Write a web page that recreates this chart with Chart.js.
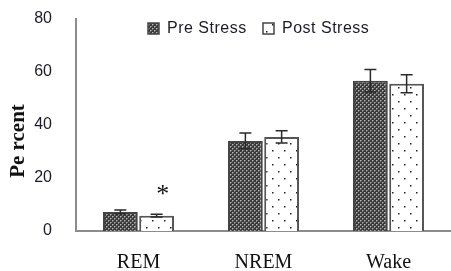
<!DOCTYPE html>
<html>
<head>
<meta charset="utf-8">
<script src="https://cdn.jsdelivr.net/npm/chart.js@4.4.0/dist/chart.umd.min.js"></script>
<style>
html, body { margin: 0; padding: 0; background: #fff; }
</style>
</head>
<body>
<canvas id="grafico" width="451" height="271"></canvas>
<script>
const categorias = ['REM', 'NREM', 'Wake'];
const preStress = [7.2, 34, 56.7];
const postStress = [5.8, 35.5, 55.6];
const erroPre = [0.7, 3, 4.2];
const erroPost = [0.5, 2.3, 3.4];
const marcasPost = ['*', '', ''];
const tituloY = 'Pe rcent';

// padroes de preenchimento
function padraoPre() {
    const c = document.createElement('canvas');
    c.width = 4; c.height = 4;
    const g = c.getContext('2d');
    g.fillStyle = '#3a3a3a';
    g.fillRect(0, 0, 4, 4);
    g.fillStyle = '#b5b5b5';
    g.fillRect(0, 0, 1, 1);
    g.fillRect(2, 2, 1, 1);
    g.fillStyle = '#7a7a7a';
    g.fillRect(1, 0, 1, 1);
    g.fillRect(0, 1, 1, 1);
    g.fillRect(3, 2, 1, 1);
    g.fillRect(2, 3, 1, 1);
    return g.createPattern(c, 'repeat');
}

function padraoPost() {
    const c = document.createElement('canvas');
    c.width = 12; c.height = 14;
    const g = c.getContext('2d');
    g.fillStyle = '#ffffff';
    g.fillRect(0, 0, 12, 14);
    g.fillStyle = '#222';
    g.fillRect(2, 3, 1.5, 1.5);
    g.fillRect(8, 10, 1.5, 1.5);
    return g.createPattern(c, 'repeat');
}

const pluginErros = {
    id: 'erros',
    afterDatasetsDraw(chart) {
        const ctx = chart.ctx;
        const y = chart.scales.y;
        chart.data.datasets.forEach((ds, i) => {
            const meta = chart.getDatasetMeta(i);
            meta.data.forEach((bar, j) => {
                const v = ds.data[j], e = ds.erros[j];
                const topo = y.getPixelForValue(v + e);
                const base = y.getPixelForValue(v - e);
                ctx.save();
                ctx.strokeStyle = '#2a2a2a';
                ctx.lineWidth = 1.5;
                ctx.beginPath();
                ctx.moveTo(bar.x, topo); ctx.lineTo(bar.x, base);
                ctx.moveTo(bar.x - 6, topo); ctx.lineTo(bar.x + 6, topo);
                ctx.moveTo(bar.x - 6, base); ctx.lineTo(bar.x + 6, base);
                ctx.stroke();
                if (ds.marcas && ds.marcas[j]) {
                    ctx.fillStyle = '#111';
                    ctx.font = '26px "Liberation Serif"';
                    ctx.textAlign = 'center';
                    ctx.textBaseline = 'middle';
                    ctx.fillText(ds.marcas[j], bar.x + 6, topo - 19);
                }
                ctx.restore();
            });
        });
    },
    afterDraw(chart) {
        const ctx = chart.ctx;
        const itens = [
            { x: 148, texto: 'Pre Stress', cor: chart.data.datasets[0].backgroundColor },
            { x: 263, texto: 'Post Stress', cor: chart.data.datasets[1].backgroundColor }
        ];
        ctx.save();
        itens.forEach(it => {
            ctx.fillStyle = it.cor;
            ctx.fillRect(it.x, 23, 11, 11);
            ctx.strokeStyle = '#444';
            ctx.lineWidth = 1.5;
            ctx.strokeRect(it.x, 23, 11, 11);
            ctx.fillStyle = '#1c1c28';
            ctx.font = '16px "Liberation Sans"';
            ctx.letterSpacing = '0.5px';
            ctx.textBaseline = 'middle';
            ctx.fillText(it.texto, it.x + 19, 29);
        });
        ctx.restore();

        // titulo do eixo y, um pouco abaixo do centro como no original
        ctx.save();
        ctx.translate(19, 141);
        ctx.rotate(-Math.PI / 2);
        ctx.fillStyle = '#111';
        ctx.font = 'bold 21px "Liberation Serif"';
        ctx.textAlign = 'center';
        ctx.textBaseline = 'middle';
        ctx.fillText(tituloY, 0, 0);
        ctx.restore();
    }
};

const contexto = document.getElementById('grafico').getContext('2d');
const meuGrafico = new Chart(contexto, {
    type: 'bar',
    data: {
        labels: categorias,
        datasets: [{
            label: 'Pre Stress',
            data: preStress,
            erros: erroPre,
            backgroundColor: padraoPre(),
            borderColor: '#444',
            borderWidth: 2,
            barPercentage: 0.96,
            categoryPercentage: 0.58
        }, {
            label: 'Post Stress',
            data: postStress,
            erros: erroPost,
            marcas: marcasPost,
            backgroundColor: padraoPost(),
            borderColor: '#555',
            borderWidth: 2,
            barPercentage: 0.96,
            categoryPercentage: 0.58
        }]
    },
    options: {
        responsive: false,
        animation: false,
        layout: { padding: { top: 19, left: 0, right: 0, bottom: 0 } },
        plugins: {
            legend: { display: false },
            tooltip: { enabled: false }
        },
        scales: {
            x: {
                grid: { display: false, drawTicks: false },
                border: { display: true, color: '#8c8c8c', width: 2 },
                ticks: {
                    color: '#111',
                    font: { family: 'Liberation Serif', size: 20 },
                    padding: 20
                },
                afterFit(scale) { scale.height = 40; }
            },
            y: {
                min: 0,
                max: 80,
                grid: { display: false, drawTicks: false },
                border: { display: true, color: '#8c8c8c', width: 2 },
                ticks: {
                    stepSize: 20,
                    color: '#1c1c28',
                    font: { family: 'Liberation Sans', size: 16 },
                    padding: 24
                },
                afterFit(scale) {
                    scale.width = 76;
                    scale.paddingTop = 0;
                    scale.paddingBottom = 0;
                }
            }
        }
    },
    plugins: [pluginErros]
});
</script>
</body>
</html>
